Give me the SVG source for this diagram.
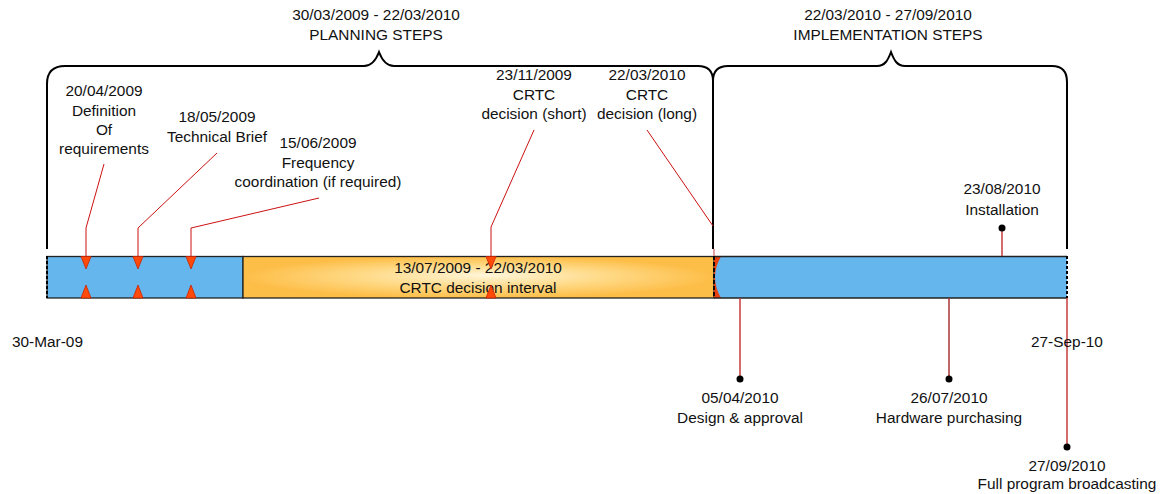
<svg xmlns="http://www.w3.org/2000/svg" width="1164" height="494" viewBox="0 0 1164 494">
<defs>
<radialGradient id="og" cx="0.5" cy="0.5" r="0.5" fx="0.52" fy="0.45">
<stop offset="0" stop-color="#FFF6DA"/>
<stop offset="0.5" stop-color="#FFDB8A"/>
<stop offset="1" stop-color="#FDBE48"/>
</radialGradient>
<marker id="dot" viewBox="0 0 8 8" refX="4" refY="4" markerWidth="8" markerHeight="8" markerUnits="userSpaceOnUse"><circle cx="4" cy="4" r="3.5" fill="#000"/></marker>
</defs>
<style>
text{font-family:"Liberation Sans",Arial,sans-serif;font-size:15.4px;fill:#111;text-anchor:middle}
.brace{fill:none;stroke:#000;stroke-width:2}
.lead{fill:none;stroke:#CC1111;stroke-width:1}
.stem{fill:none;stroke:#C83A3A;stroke-width:1.5}
.tri{fill:#FF4A0A;stroke:#CC2200;stroke-width:0.8}
.bar{stroke:#222;stroke-width:1.3}
.dash{stroke:#000;stroke-width:2;stroke-dasharray:3,2;fill:none}
</style>

<g id="planning-brace">
<path class="brace" d="M47,249 V84 Q47,66 65,66 H364 C372,66 376,60 379,52 C382,60 386,66 394,66 H698 Q713,66 713,81 V249"/>
<text x="376" y="20">30/03/2009 - 22/03/2010</text>
<text x="376" y="40">PLANNING STEPS</text>
</g>
<g id="implementation-brace">
<path class="brace" d="M713,81 Q713,66 728,66 H877 C885,66 888,60 891,52 C894,60 897,66 905,66 H1052 Q1067,66 1067,82 V249"/>
<text x="888" y="20">22/03/2010 - 27/09/2010</text>
<text x="888" y="40">IMPLEMENTATION STEPS</text>
</g>

<g id="timeline-bar">
<rect class="bar" x="47" y="256.5" width="196" height="41.5" fill="#64B6EC"/>
<rect class="bar" x="243" y="256.5" width="471" height="41.5" fill="url(#og)"/>
<text x="478" y="273">13/07/2009 - 22/03/2010</text>
<text x="478" y="293">CRTC decision interval</text>
<rect x="714" y="256.5" width="8" height="41.5" fill="#E8400E"/>
<path d="M721,256.5 H1067 V298 H721 Q709,277 721,256.5 Z" style="fill:#64B6EC;stroke:none"/>
<path class="bar" d="M714,256.5 H1067 M714,298 H1067" fill="none"/>
<line class="dash" x1="47" y1="256" x2="47" y2="298"/>
<line class="dash" x1="1067" y1="256" x2="1067" y2="298"/>
<line x1="714" y1="256" x2="714" y2="298" stroke="#000" stroke-width="1.8" stroke-dasharray="4,2"/>
</g>

<g id="connectors">
<polyline class="lead" points="104,164 86,228 86,257"/>
<polyline class="lead" points="217,153 138,228 138,257"/>
<polyline class="lead" points="319,198 191,228 191,257"/>
<polyline class="lead" points="534,130 491,227 491,257"/>
<polyline class="lead" points="647,130 713,226"/>
<line x1="714" y1="249" x2="714" y2="256" stroke="#E08080" stroke-width="1.5"/>
<line class="stem" x1="1002" y1="228" x2="1002" y2="256" marker-start="url(#dot)"/>
<line class="stem" x1="740" y1="298" x2="740" y2="379" marker-end="url(#dot)"/>
<line class="stem" x1="949" y1="298" x2="949" y2="379" marker-end="url(#dot)" style="stroke:#A33"/>
<line class="stem" x1="1067" y1="298" x2="1067" y2="447" marker-end="url(#dot)"/>
</g>

<g id="markers">
<polygon class="tri" points="81,256.5 91,256.5 86,269"/>
<polygon class="tri" points="81,298 91,298 86,285"/>
<polygon class="tri" points="133,256.5 143,256.5 138,269"/>
<polygon class="tri" points="133,298 143,298 138,285"/>
<polygon class="tri" points="186,256.5 196,256.5 191,269"/>
<polygon class="tri" points="186,298 196,298 191,285"/>
<polygon class="tri" points="486,256.5 496,256.5 491,269"/>
<polygon class="tri" points="486,298 496,298 491,285"/>
</g>

<g id="node-definition">
<text x="104" y="96">20/04/2009</text>
<text x="104" y="116">Definition</text>
<text x="104" y="135">Of</text>
<text x="104" y="154">requirements</text>
</g>
<g id="node-technical-brief">
<text x="217" y="122">18/05/2009</text>
<text x="217" y="142">Technical Brief</text>
</g>
<g id="node-frequency">
<text x="318" y="148">15/06/2009</text>
<text x="318" y="168">Frequency</text>
<text x="318" y="187">coordination (if required)</text>
</g>
<g id="node-crtc-short">
<text x="534" y="80">23/11/2009</text>
<text x="534" y="100">CRTC</text>
<text x="534" y="119">decision (short)</text>
</g>
<g id="node-crtc-long">
<text x="647" y="80">22/03/2010</text>
<text x="647" y="100">CRTC</text>
<text x="647" y="119">decision (long)</text>
</g>
<g id="node-installation">
<text x="1002" y="194">23/08/2010</text>
<text x="1002" y="215">Installation</text>
</g>
<g id="node-design">
<text x="740" y="403">05/04/2010</text>
<text x="740" y="423">Design &amp; approval</text>
</g>
<g id="node-hardware">
<text x="949" y="403">26/07/2010</text>
<text x="949" y="423">Hardware purchasing</text>
</g>
<g id="node-broadcasting">
<text x="1067" y="471">27/09/2010</text>
<text x="1067" y="489">Full program broadcasting</text>
</g>
<g id="axis-labels">
<text x="12" y="347" style="text-anchor:start">30-Mar-09</text>
<text x="1031" y="347" style="text-anchor:start">27-Sep-10</text>
</g>
</svg>
